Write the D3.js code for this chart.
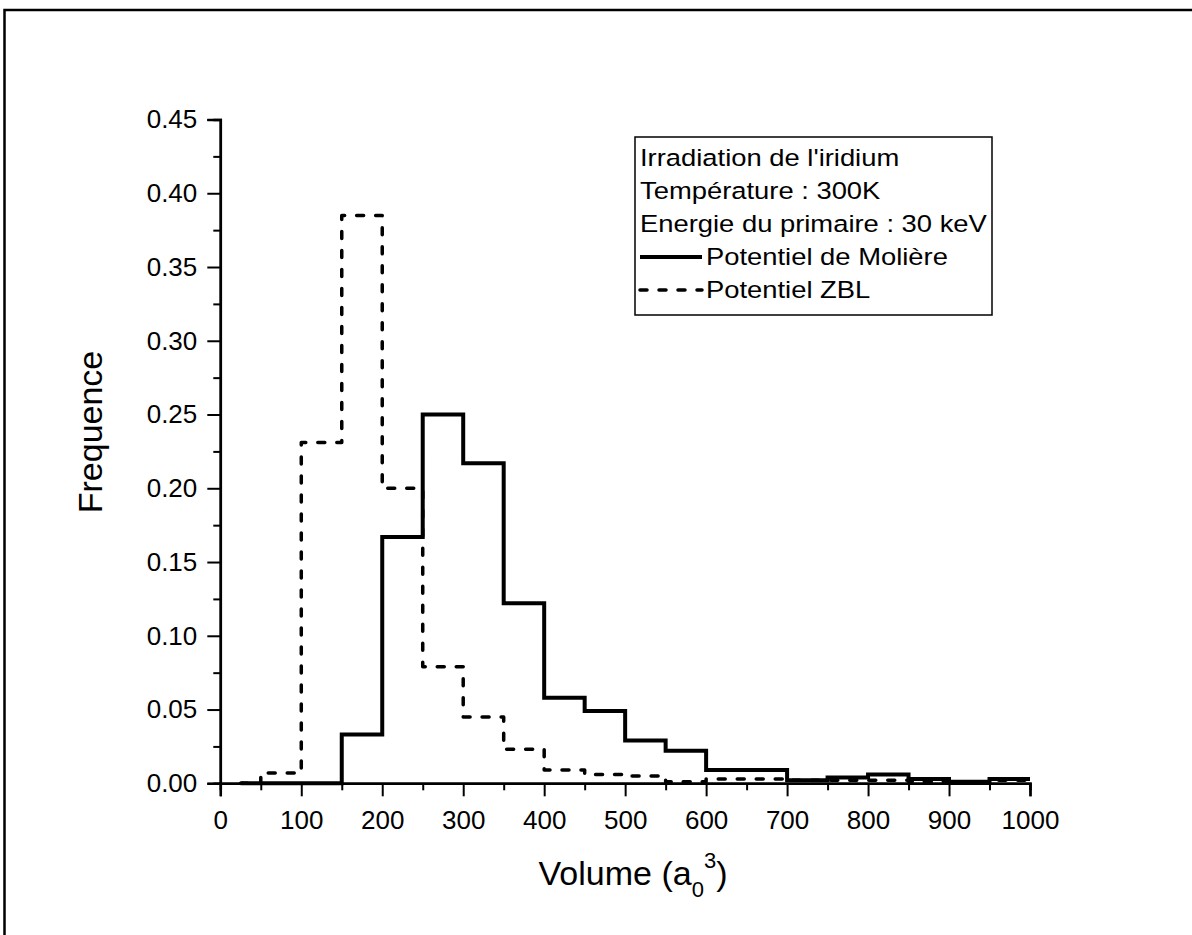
<!DOCTYPE html>
<html>
<head>
<meta charset="utf-8">
<script src="https://cdn.jsdelivr.net/npm/d3@7"></script>
<style>
  html, body { margin: 0; padding: 0; background: #fff; }
  svg { display: block; }
  text { font-family: "Liberation Sans", Arial, sans-serif; fill: #000; }
</style>
</head>
<body>
<svg id="chart" width="1192" height="935"></svg>
<script>
// ---- data ----
const binCenters = [25, 75, 125, 175, 225, 275, 325, 375, 425, 475, 525, 575, 625, 675, 725, 775, 825, 875, 925, 975];
const moliere = [0, 0, 0, 0.033, 0.167, 0.25, 0.217, 0.122, 0.058, 0.049, 0.029, 0.022, 0.009, 0.009, 0.002, 0.004, 0.006, 0.003, 0.001, 0.003];
const zbl = [0, 0.007, 0.231, 0.385, 0.2, 0.079, 0.045, 0.023, 0.009, 0.006, 0.005, 0.001, 0.003, 0.003, 0.002, 0.002, 0.002, 0.001, 0.001, 0.002];
const xMajorTicks = [0, 100, 200, 300, 400, 500, 600, 700, 800, 900, 1000];
const xMinorTicks = [50, 150, 250, 350, 450, 550, 650, 750, 850, 950];
const yMajorTicks = [0, 0.05, 0.10, 0.15, 0.20, 0.25, 0.30, 0.35, 0.40, 0.45];
const yMinorTicks = [0.025, 0.075, 0.125, 0.175, 0.225, 0.275, 0.325, 0.375, 0.425];
const legendInfo = ["Irradiation de l'iridium", "Température : 300K", "Energie du primaire : 30 keV"];
const seriesNames = ["Potentiel de Molière", "Potentiel ZBL"];
const xTitle = "Volume (a";
const yTitle = "Frequence";

// ---- layout ----
const svg = d3.select("#chart");
const x = d3.scaleLinear().domain([0, 1000]).range([220.3, 1030]);
const y = d3.scaleLinear().domain([0, 0.45]).range([783.3, 119.5]);

// outer frame
svg.append("rect")
  .attr("x", 4.5).attr("y", 10)
  .attr("width", 1300).attr("height", 1100)
  .attr("fill", "none").attr("stroke", "#000").attr("stroke-width", 2.5);

// axes
const fontTick = 26;
const gx = svg.append("g").attr("transform", `translate(0,${y(0)})`)
  .call(d3.axisBottom(x).tickValues(xMajorTicks).tickSize(13).tickPadding(14).tickFormat(d3.format("d")));
const gxm = svg.append("g").attr("transform", `translate(0,${y(0)})`)
  .call(d3.axisBottom(x).tickValues(xMinorTicks).tickSize(7).tickFormat(""));
const gy = svg.append("g").attr("transform", `translate(${x(0)},0)`)
  .call(d3.axisLeft(y).tickValues(yMajorTicks).tickSize(13).tickPadding(10).tickFormat(d3.format(".2f")));
const gym = svg.append("g").attr("transform", `translate(${x(0)},0)`)
  .call(d3.axisLeft(y).tickValues(yMinorTicks).tickSize(7).tickFormat(""));

[gx, gxm, gy, gym].forEach(g => {
  g.selectAll(".domain").attr("stroke", "#000").attr("stroke-width", 2.5);
  g.selectAll(".tick line").attr("stroke", "#000").attr("stroke-width", 2);
  g.selectAll(".tick text")
    .style("font-family", '"Liberation Sans", Arial, sans-serif')
    .style("font-size", fontTick + "px").attr("fill", "#000");
});

// step paths
function stepPoints(vals) {
  const pts = binCenters.map((c, i) => [c, vals[i]]);
  pts.push([x.domain()[1], vals[vals.length - 1]]);
  return pts;
}
const line = d3.line().x(d => x(d[0])).y(d => y(d[1])).curve(d3.curveStep);

svg.append("path")
  .attr("d", line(stepPoints(moliere)))
  .attr("fill", "none").attr("stroke", "#000").attr("stroke-width", 4)
  .attr("stroke-linejoin", "miter");

svg.append("path")
  .attr("d", line(stepPoints(zbl)))
  .attr("fill", "none").attr("stroke", "#000").attr("stroke-width", 3.5)
  .attr("stroke-dasharray", "7,12").attr("stroke-linecap", "round")
  .attr("stroke-linejoin", "round");

// axis titles
const xt = svg.append("text")
  .attr("x", 633).attr("y", 885)
  .attr("text-anchor", "middle")
  .style("font-size", "34px");
xt.append("tspan").text(xTitle);
xt.append("tspan").attr("dy", 12).style("font-size", "22px").text("0");
xt.append("tspan").attr("dy", -29).style("font-size", "22px").text("3");
xt.append("tspan").attr("dy", 17).text(")");

svg.append("text")
  .attr("transform", "translate(102,432) rotate(-90)")
  .attr("text-anchor", "middle")
  .style("font-size", "34px")
  .text(yTitle);

// legend
const lg = svg.append("g");
lg.append("rect")
  .attr("x", 635).attr("y", 137).attr("width", 357).attr("height", 178)
  .attr("fill", "#fff").attr("stroke", "#000").attr("stroke-width", 1.5);
const baselines = [166, 199, 232, 265, 298];
const fs = 23.5;
const sx = 1.165;
legendInfo.forEach((t, i) => {
  lg.append("text")
    .attr("transform", `translate(640,${baselines[i]}) scale(${sx},1)`)
    .style("font-size", fs + "px")
    .text(t);
});
seriesNames.forEach((t, i) => {
  const by = baselines[3 + i];
  lg.append("line")
    .attr("x1", 640).attr("x2", 702)
    .attr("y1", by - 8).attr("y2", by - 8)
    .attr("stroke", "#000")
    .attr("stroke-width", i === 0 ? 4 : 3.5)
    .attr("stroke-dasharray", i === 0 ? null : "7,12")
    .attr("stroke-linecap", i === 0 ? "butt" : "round");
  lg.append("text")
    .attr("transform", `translate(706,${by}) scale(${sx},1)`)
    .style("font-size", fs + "px")
    .text(t);
});
</script>
</body>
</html>
